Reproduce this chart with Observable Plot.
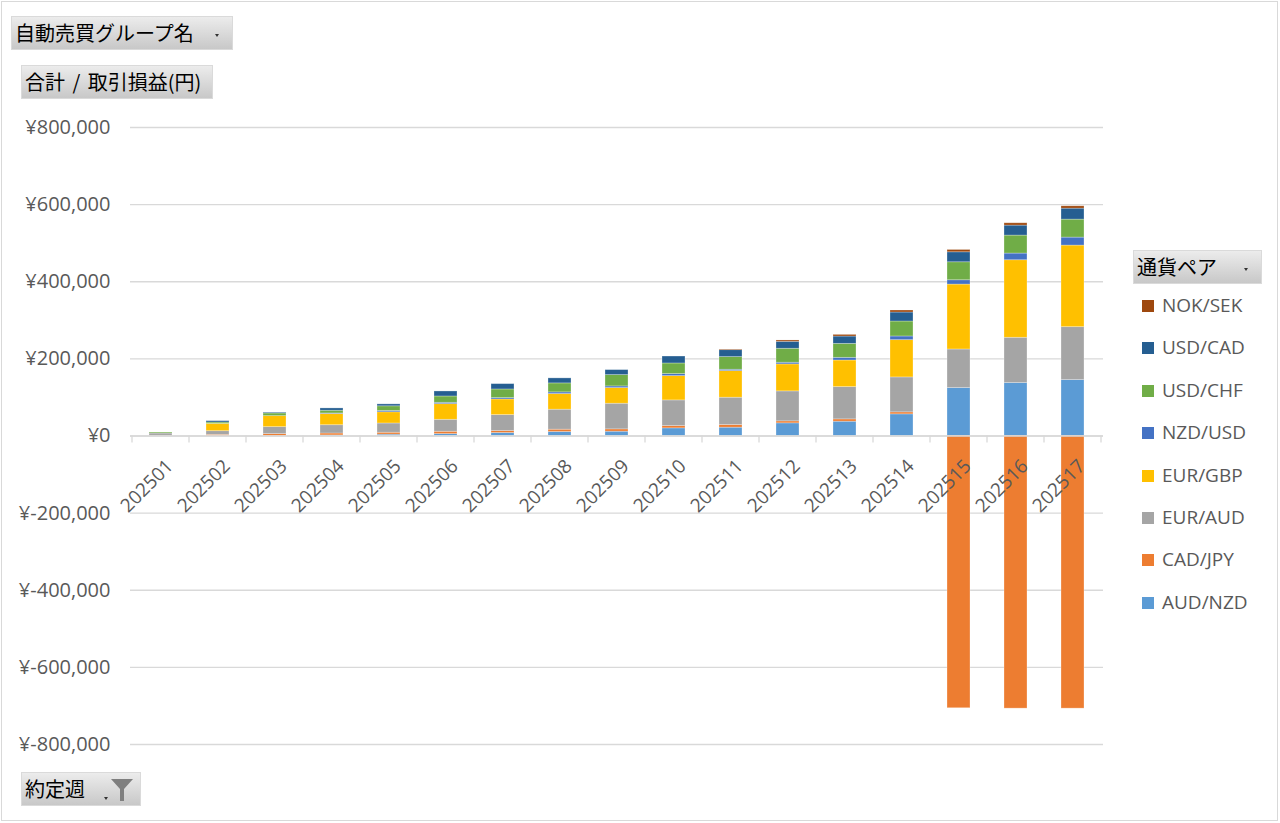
<!DOCTYPE html>
<html><head><meta charset="utf-8">
<script src="https://cdn.jsdelivr.net/npm/d3@7"></script>
<script src="https://cdn.jsdelivr.net/npm/@observablehq/plot@0.6"></script>
<style>
html,body{margin:0;padding:0;background:#fff;}
#wrap{position:relative;width:1280px;height:823px;overflow:hidden;font-family:"Open Sans","Noto Sans CJK JP",sans-serif;}
#frame{position:absolute;left:1px;top:1px;width:1277px;height:820px;border:1.5px solid #d9d9d9;box-sizing:border-box;pointer-events:none;}
#chart{position:absolute;left:0;top:0;}
.btn{position:absolute;height:34px;background:linear-gradient(#ececec,#c8c8c8);box-sizing:border-box;border:1px solid #dadada;font-family:"Noto Sans CJK JP",sans-serif;font-size:20px;color:#000;line-height:32px;padding-left:3px;white-space:nowrap;}
.arrow{position:absolute;width:0;height:0;border-left:2.5px solid transparent;border-right:2.5px solid transparent;border-top:3px solid #333;}
.leg{position:absolute;left:1142px;height:20px;font-family:"Open Sans","Noto Sans",sans-serif;font-size:19px;color:#595959;white-space:nowrap;}
.sw{position:absolute;left:0;top:4px;width:12px;height:12px;}
.lt{position:absolute;left:20px;top:-5px;line-height:28px;}
</style></head>
<body>
<div id="wrap">
  <div id="chart"></div>
  <div class="btn" style="left:11px;top:16px;width:222px;">自動売買グループ名<div class="arrow" style="left:203px;top:17px;"></div></div>
  <div class="btn" style="left:21px;top:65px;width:192px;word-spacing:3px;">合計 / 取引損益(円)</div>
  <div class="btn" style="left:21px;top:772px;width:120px;">約定週<div class="arrow" style="left:82px;top:24px;"></div>
    <svg style="position:absolute;left:89px;top:6px;" width="22" height="22" viewBox="0 0 22 22"><path d="M0,0 L22,0 L13,10 L13,22 L9,22 L9,10 Z" fill="#7f7f7f"/></svg>
  </div>
  <div class="btn" style="left:1133px;top:250px;width:129px;">通貨ペア<div class="arrow" style="left:110px;top:17px;"></div></div>
  <div id="legend"></div>
  <div id="frame"></div>
</div>
<script>
const weeks = ["202501","202502","202503","202504","202505","202506","202507","202508","202509","202510","202511","202512","202513","202514","202515","202516","202517"];
const pairs = ["AUD/NZD","CAD/JPY","EUR/AUD","EUR/GBP","NZD/USD","USD/CHF","USD/CAD","NOK/SEK"];
const colors = ["#5B9BD5","#ED7D31","#A5A5A5","#FFC000","#4472C4","#70AD47","#255E91","#9E480E"];

const audNzd = [0, 0, 0, 1500, 3500, 5000, 7800, 10400, 11200, 19800, 21600, 32800, 37100, 56100, 124300, 137300, 145000];
const cadJpy = [500, 3000, 5000, 5000, 5000, 6000, 5000, 6000, 6000, 6000, 6900, 5200, 6000, 5200, -706000, -707000, -707000];
const eurAud = [6000, 9500, 18000, 21500, 24000, 31000, 41400, 51800, 66500, 66500, 70800, 77700, 83700, 90600, 100100, 117400, 137300];
const eurGbp = [0, 19000, 28500, 29000, 29000, 40600, 40600, 40600, 40600, 63000, 69000, 70000, 69000, 96700, 168300, 201100, 211500];
const nzdUsd = [0, 0, 0, 1500, 3500, 3500, 3500, 4300, 4300, 5200, 3500, 4300, 6900, 9500, 11200, 17300, 20700];
const usdChf = [2500, 3500, 7000, 7000, 12000, 16400, 22400, 23300, 29300, 27600, 32800, 36200, 36200, 38800, 46600, 46600, 46600];
const usdCad = [0, 3500, 2000, 6000, 5000, 13000, 13800, 13000, 13000, 18000, 18000, 18000, 19000, 23300, 25900, 25900, 28500];
const nokSek = [0, 0, 0, 0, 0, 0, 0, 0, 0, 0, 1700, 3500, 4300, 5200, 6000, 6000, 6000];

const yTicks = [-800000, -600000, -400000, -200000, 0, 200000, 400000, 600000, 800000];

const seriesList = [audNzd, cadJpy, eurAud, eurGbp, nzdUsd, usdChf, usdCad, nokSek];
const table = pairs.flatMap((p, k) => weeks.map((w, i) => ({week: w, pair: p, value: seriesList[k][i]})));

const fmt = d => "¥" + (d < 0 ? "-" : "") + d3.format(",")(Math.abs(d));

const W = 1280, H = 823, mL = 130, mR = 177, mT = 127, mB = 79;
const grid = "#d9d9d9";

// category separator ticks below the zero line, placed via the band scale
function bandTicks(index, scales) {
  const x = scales.x, y = scales.y;
  const bw = x.bandwidth ? x.bandwidth() : 0;
  const st = x.step ? x.step() : (x(weeks[1]) - x(weeks[0]));
  const y0 = y(0);
  const g = d3.create("svg:g").attr("stroke", grid).attr("stroke-width", 1.3);
  const edges = weeks.map(w => x(w) + bw / 2 - st / 2);
  edges.push(x(weeks[weeks.length - 1]) + bw / 2 + st / 2);
  for (const e of edges) {
    g.append("line").attr("x1", e).attr("x2", e).attr("y1", y0).attr("y2", y0 + 7);
  }
  return g.node();
}

const chart = Plot.plot({
  width: W, height: H,
  marginLeft: mL, marginRight: mR, marginTop: mT, marginBottom: mB,
  style: {fontFamily: '"Open Sans","Noto Sans",sans-serif', fontSize: "20px", background: "transparent", color: "#595959", overflow: "visible"},
  x: {domain: weeks, paddingInner: 0.6, paddingOuter: 0.3, axis: null},
  y: {domain: [-800000, 800000], axis: null},
  color: {domain: pairs, range: colors},
  marks: [
    Plot.gridY(yTicks, {stroke: grid, strokeOpacity: 1, strokeWidth: 1.3}),
    Plot.axisY(yTicks, {tickSize: 0, tickPadding: 20, tickFormat: fmt, fontSize: 20, fill: "#595959", label: null}),
    Plot.barY(table, {x: "week", y: "value", fill: "pair", stroke: "#ffffff", strokeOpacity: 0.35, strokeWidth: 0.8}),
    Plot.ruleY([0], {stroke: grid, strokeWidth: 1.3}),
    bandTicks,
    Plot.text(weeks, {x: d => d, y: 0, text: d => d, rotate: -45, textAnchor: "end", dx: 9, dy: 27, fontSize: 19, fill: "#595959"})
  ]
});
document.getElementById("chart").appendChild(chart);

const legend = document.getElementById("legend");
const legendOrder = pairs.map((p, i) => i).reverse();
legendOrder.forEach((idx, j) => {
  const item = document.createElement("div");
  item.className = "leg";
  item.style.top = (296 + j * 42.4) + "px";
  item.innerHTML = `<div class="sw" style="background:${colors[idx]}"></div><div class="lt">${pairs[idx]}</div>`;
  legend.appendChild(item);
});
</script>
</body></html>
